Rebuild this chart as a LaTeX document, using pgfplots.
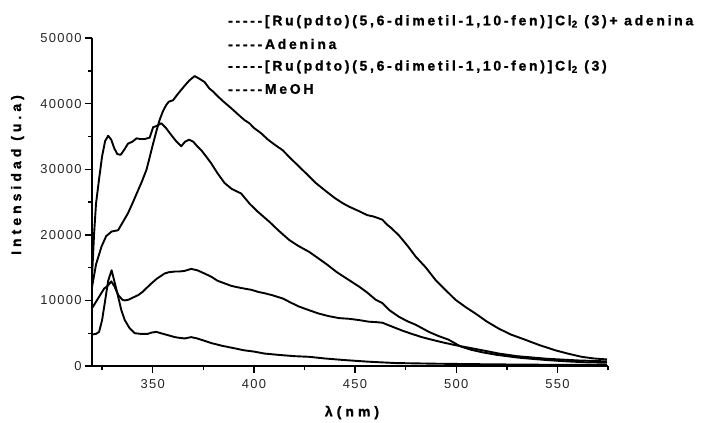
\documentclass[border=0pt]{standalone}
\usepackage{fontspec}
\setmainfont{Liberation Sans}
\newfontfamily\legfont[LetterSpace=19.5, FakeBold=1.2]{Liberation Sans Bold}
\newfontfamily\labfont[LetterSpace=29, FakeBold=1.2]{Liberation Sans Bold}
\newfontfamily\ticfont[LetterSpace=10]{Liberation Sans}
\usepackage{pgfplots}
\pgfplotsset{compat=1.18}
\begin{document}
\begin{tikzpicture}
\useasboundingbox (-92bp,-57bp) rectangle (610bp,366bp);
\begin{axis}[
  at={(0,0)}, anchor=south west,
  width=516bp, height=328bp, scale only axis,
  xmin=320, xmax=575, ymin=0, ymax=50000,
  axis x line*=bottom, axis y line*=left,
  axis line style={line width=1.6bp},
  xtick={350,400,450,500,550},
  minor xtick={325,375,425,475,525,575},
  ytick={0,10000,20000,30000,40000,50000},
  minor ytick={5000,15000,25000,35000,45000},
  tick align=outside,
  major tick length=7bp, minor tick length=4bp,
  every tick/.style={line width=1.4bp, black},
  scaled ticks=false,
  /pgf/number format/.cd, 1000 sep={}, assume math mode=true,
  /pgfplots/.cd,
  tick label style={font=\ticfont\fontsize{13}{15}\selectfont, text=black!85},
  xticklabel style={yshift=-3bp},
  clip=false,
]
% A: Ru + adenina
\addplot[black, line width=1.9bp, no markers, line join=round] coordinates {
(320,12000)(322,15500)(324.7,18200)(327,19800)(329.7,20500)(332.9,20700)(335,21800)(337.8,23300)(340,24800)(342.8,26800)(344.5,28000)(346.9,29900)(348.5,31800)(350.2,33900)(352,36000)(353.4,37500)(355,38800)(356.7,39800)(358,40300)(360,40500)(362,41300)(364.1,42100)(366,42800)(368,43500)(370.7,44200)(373,43800)(375.6,43300)(378,42300)(380,41800)(382.2,41100)(385,40300)(388.8,39300)(392,38400)(395.3,37500)(397.8,37000)(400,36300)(403.5,35500)(407,34500)(410,33800)(414.2,32900)(418,31700)(422,30500)(426,29300)(430.6,27900)(435,26800)(440,25600)(444,24800)(447,24300)(452,23600)(456,23000)(459,22800)(461.8,22500)(463.5,22300)(466,21500)(468,21000)(471.7,19900)(476,18300)(479.9,16700)(485,15000)(489.8,13100)(495,11500)(499.6,10100)(505,8900)(509.5,8000)(515,6800)(521,5700)(527,4800)(534.1,4000)(541,3200)(548.9,2400)(555,1900)(562,1400)(568,1150)(574.5,1000)
};
% B: Adenina
\addplot[black, line width=1.9bp, no markers, line join=round] coordinates {
(320,13500)(321,20000)(322,24800)(323.5,28500)(325,32000)(326.5,34300)(328,35100)(329.5,34500)(331,33200)(332.5,32300)(334.2,32200)(336,33000)(337.8,33900)(340,34200)(342,34700)(344,34600)(346,34600)(348.5,34800)(350.2,36400)(352,36600)(354.3,37000)(356.5,36300)(359.2,35200)(361.5,34300)(364.1,33500)(366,34200)(368,34500)(370,34200)(372,33500)(374,32900)(376.5,31900)(378.9,30900)(382,29400)(385.5,27900)(389,27000)(393.7,26300)(398,24700)(402,23500)(407.6,22000)(412,20700)(417.5,19200)(422,18300)(427.3,17400)(431,16600)(436,15500)(441,14300)(447,13100)(452,12100)(456,11200)(460.2,10100)(463.5,9600)(467,8500)(471.7,7500)(476,6800)(479.9,6300)(486.5,5200)(491,4600)(496.3,4000)(502,3000)(507,2500)(512.7,2100)(520,1700)(530,1300)(537,1100)(545,900)(555,700)(565,550)(574.5,500)
};
% C
\addplot[black, line width=1.9bp, no markers, line join=round] coordinates {
(320,8800)(322,9800)(324,10800)(326,11800)(328,12300)(329.5,12900)(331,12200)(333,10800)(335,10100)(336.2,10000)(338,10100)(340,10400)(342.8,10800)(345,11300)(347,11900)(349.4,12600)(352,13300)(355.9,14100)(358,14300)(361,14400)(363,14400)(365.8,14500)(369,14800)(372,14600)(375.6,14100)(379,13600)(382,13000)(385.5,12600)(389,12200)(392,12000)(395.3,11800)(399,11600)(402,11300)(405.2,11100)(409,10800)(414.2,10300)(418,9700)(422,9100)(427.3,8500)(432,8000)(437,7600)(442.1,7300)(447,7200)(452,7000)(456.9,6750)(460,6700)(463.5,6600)(466.7,6200)(470,5800)(473.3,5400)(478,4900)(483,4400)(488,4000)(494,3550)(500,3150)(506,2800)(512,2450)(521,1900)(530,1500)(545,1100)(560,850)(574.5,700)
};
% D: MeOH
\addplot[black, line width=1.9bp, no markers, line join=round] coordinates {
(320,4800)(322,4900)(323.5,5200)(325,7000)(326.5,10000)(328,13000)(329.7,14600)(331,13000)(332.9,10600)(334.5,8500)(336.2,7000)(338.5,5800)(341.1,5000)(344,4900)(347.6,4900)(349.5,5100)(351.8,5200)(354,5000)(357.5,4700)(361,4400)(363,4300)(365.8,4200)(369,4400)(372,4200)(375,3900)(378.9,3500)(384,3100)(390.4,2700)(395,2400)(400,2200)(405.2,1900)(412,1700)(420,1500)(427.3,1400)(435,1150)(445,900)(456.9,650)(470,450)(490,350)(510,280)(530,220)(550,180)(574.5,150)
};
\end{axis}
\node[rotate=90, inner sep=0pt] at (-74.5bp,191bp) {\labfont\fontsize{14}{16}\selectfont Intensidad (u.a)};
\node[inner sep=0pt] at (260bp,-46.5bp) {\labfont\fontsize{14}{16}\selectfont λ(nm)};
\begin{scope}[every node/.style={anchor=west, inner sep=0pt}]
\node at (136bp,344.3bp) {\legfont\fontsize{14}{16}\selectfont -----[Ru(pdto)(5,6-dimetil-1,10-fen)]Cl\textsubscript{2} (3)+ adenina};
\node at (136bp,322bp) {\legfont\fontsize{14}{16}\selectfont -----Adenina};
\node at (136bp,299bp) {\legfont\fontsize{14}{16}\selectfont -----[Ru(pdto)(5,6-dimetil-1,10-fen)]Cl\textsubscript{2} (3)};
\node at (136bp,277bp) {\legfont\fontsize{14}{16}\selectfont -----MeOH};
\end{scope}
\end{tikzpicture}
\end{document}
